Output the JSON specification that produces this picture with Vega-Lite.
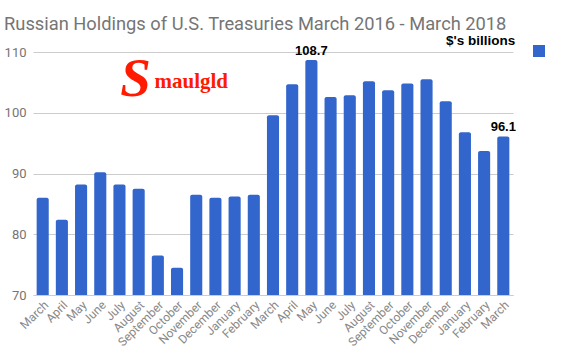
{
  "$schema": "https://vega.github.io/schema/vega-lite/v6.json",
  "width": 480,
  "height": 243,
  "autosize": {"type": "none"},
  "padding": {"left": 33, "top": 52, "right": 60, "bottom": 66},
  "background": "white",
  "title": {
    "text": "Russian Holdings of U.S. Treasuries March 2016 - March 2018",
    "anchor": "start",
    "frame": "bounds",
    "font": "Roboto",
    "fontSize": 18.3,
    "fontWeight": "normal",
    "color": "#757575",
    "baseline": "alphabetic",
    "offset": -3
  },
  "config": {
    "view": {"stroke": null},
    "font": "Roboto"
  },
  "data": {
    "values": [
      {"period": "March 2016", "v": 86.0, "series": "$'s billions"},
      {"period": "April 2016", "v": 82.4, "series": "$'s billions"},
      {"period": "May 2016", "v": 88.2, "series": "$'s billions"},
      {"period": "June 2016", "v": 90.2, "series": "$'s billions"},
      {"period": "July 2016", "v": 88.2, "series": "$'s billions"},
      {"period": "August 2016", "v": 87.5, "series": "$'s billions"},
      {"period": "September 2016", "v": 76.5, "series": "$'s billions"},
      {"period": "October 2016", "v": 74.5, "series": "$'s billions"},
      {"period": "November 2016", "v": 86.5, "series": "$'s billions"},
      {"period": "December 2016", "v": 86.0, "series": "$'s billions"},
      {"period": "January 2017", "v": 86.2, "series": "$'s billions"},
      {"period": "February 2017", "v": 86.5, "series": "$'s billions"},
      {"period": "March 2017", "v": 99.6, "series": "$'s billions"},
      {"period": "April 2017", "v": 104.7, "series": "$'s billions"},
      {"period": "May 2017", "v": 108.7, "series": "$'s billions", "label": "108.7"},
      {"period": "June 2017", "v": 102.6, "series": "$'s billions"},
      {"period": "July 2017", "v": 102.9, "series": "$'s billions"},
      {"period": "August 2017", "v": 105.2, "series": "$'s billions"},
      {"period": "September 2017", "v": 103.7, "series": "$'s billions"},
      {"period": "October 2017", "v": 104.8, "series": "$'s billions"},
      {"period": "November 2017", "v": 105.5, "series": "$'s billions"},
      {"period": "December 2017", "v": 101.9, "series": "$'s billions"},
      {"period": "January 2018", "v": 96.8, "series": "$'s billions"},
      {"period": "February 2018", "v": 93.7, "series": "$'s billions"},
      {"period": "March 2018", "v": 96.1, "series": "$'s billions", "label": "96.1"}
    ]
  },
  "encoding": {
    "x": {
      "field": "period",
      "type": "nominal",
      "sort": null,
      "scale": {"paddingInner": 0.37, "paddingOuter": 0.19},
      "axis": {
        "title": null,
        "labelAngle": -45,
        "labelExpr": "split(datum.label, ' ')[0]",
        "labelFont": "Roboto",
        "labelFontSize": 12,
        "labelColor": "#888888",
        "ticks": false,
        "domainColor": "#cccccc",
        "labelPadding": 4
      }
    },
    "y": {
      "field": "v",
      "type": "quantitative",
      "scale": {"domain": [70, 110], "nice": false, "zero": false},
      "axis": {
        "title": null,
        "values": [70, 80, 90, 100, 110],
        "domain": false,
        "ticks": false,
        "gridColor": "#cccccc",
        "labelFont": "Roboto",
        "labelFontSize": 13,
        "labelColor": "#757575",
        "labelPadding": 7
      }
    }
  },
  "layer": [
    {
      "mark": {"type": "bar", "cornerRadiusTopLeft": 2, "cornerRadiusTopRight": 2},
      "encoding": {
        "y2": {"datum": 70},
        "color": {
          "field": "series",
          "type": "nominal",
          "scale": {"range": ["#3366cc"]},
          "legend": {
            "orient": "none",
            "legendX": 413,
            "legendY": -7,
            "title": "$'s billions",
            "titleOrient": "left",
            "titleAnchor": "start",
            "titleBaseline": "alphabetic",
            "titleFont": "Liberation Sans",
            "titleFontSize": 13.5,
            "titleFontWeight": "bold",
            "titleColor": "#000000",
            "titlePadding": 17,
            "symbolType": "square",
            "symbolSize": 144,
            "symbolStrokeWidth": 0,
            "labelExpr": "''",
            "labelOffset": 0,
            "padding": 0
          }
        }
      }
    },
    {
      "transform": [{"filter": "isValid(datum.label)"}],
      "mark": {"type": "text", "baseline": "alphabetic", "dy": -5, "font": "Liberation Sans", "fontSize": 13, "fontWeight": "bold", "color": "#000000"},
      "encoding": {"text": {"field": "label"}}
    },
    {
      "data": {"values": [{"period": "July 2016", "v": 102.7, "t": "S"}]},
      "mark": {"type": "text", "font": "Liberation Serif", "fontSize": 55, "fontWeight": "bold", "fontStyle": "italic", "color": "#ff1a00", "align": "center", "baseline": "alphabetic", "dx": 16},
      "encoding": {"text": {"field": "t"}}
    },
    {
      "data": {"values": [{"period": "July 2016", "v": 104.0, "t": "maulgld"}]},
      "mark": {"type": "text", "font": "Liberation Serif", "fontSize": 21, "fontWeight": "bold", "color": "#ff1a00", "align": "left", "baseline": "alphabetic", "dx": 35},
      "encoding": {"text": {"field": "t"}}
    }
  ]
}
